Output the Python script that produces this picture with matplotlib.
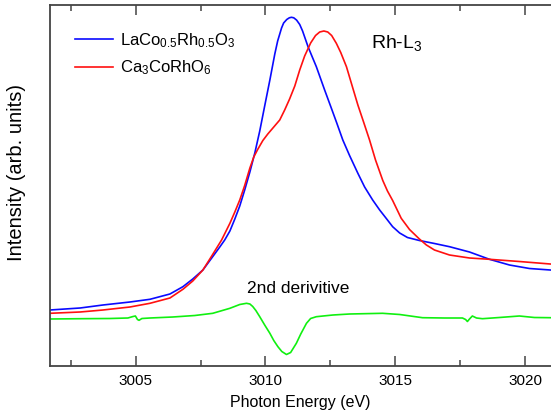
import matplotlib.pyplot as plt
from matplotlib.ticker import MultipleLocator

plt.rcParams['font.family'] = ['Liberation Sans', 'DejaVu Sans']
plt.rcParams['mathtext.fontset'] = 'custom'
plt.rcParams['mathtext.rm'] = 'Liberation Sans'
plt.rcParams['mathtext.it'] = 'Liberation Sans:italic'

# Rh L3 edge XAS, LaCo0.5Rh0.5O3
energy_lco = [3001.70, 3002.86, 3003.74, 3004.78, 3005.55, 3006.32, 3006.82, 3007.20,
              3007.59, 3007.93, 3008.24, 3008.43, 3008.63, 3008.82, 3009.01, 3009.20,
              3009.40, 3009.59, 3009.78, 3009.97, 3010.17, 3010.36, 3010.47, 3010.62,
              3010.70, 3010.82, 3010.92, 3011.00, 3011.09, 3011.20, 3011.32, 3011.43,
              3011.64, 3011.78, 3011.96, 3012.28, 3012.54, 3012.74, 3012.98, 3013.24,
              3013.56, 3013.82, 3014.13, 3014.40, 3014.65, 3014.90, 3015.17, 3015.47,
              3015.93, 3016.51, 3017.09, 3017.86, 3018.63, 3019.40, 3020.17, 3020.97]
int_lco = [0.560, 0.580, 0.610, 0.640, 0.667, 0.720, 0.793, 0.870,
           0.960, 1.080, 1.190, 1.260, 1.350, 1.470, 1.600, 1.760,
           1.940, 2.130, 2.350, 2.600, 2.860, 3.120, 3.250, 3.380,
           3.430, 3.465, 3.482, 3.487, 3.482, 3.459, 3.415, 3.350,
           3.193, 3.105, 2.993, 2.760, 2.577, 2.435, 2.260, 2.105,
           1.927, 1.790, 1.660, 1.560, 1.477, 1.393, 1.330, 1.285,
           1.255, 1.225, 1.193, 1.140, 1.067, 1.010, 0.975, 0.960]

# Ca3CoRhO6
energy_cco = [3001.70, 3002.86, 3003.74, 3004.78, 3005.55, 3006.32, 3006.82, 3007.20,
              3007.59, 3007.93, 3008.31, 3008.63, 3008.82, 3009.01, 3009.20, 3009.40,
              3009.55, 3009.70, 3009.90, 3010.09, 3010.32, 3010.55, 3010.74, 3010.93,
              3011.13, 3011.32, 3011.51, 3011.74, 3011.93, 3012.09, 3012.25, 3012.40,
              3012.55, 3012.73, 3012.90, 3013.12, 3013.37, 3013.56, 3013.78, 3014.01,
              3014.24, 3014.52, 3014.70, 3014.90, 3015.23, 3015.55, 3015.93, 3016.20,
              3016.51, 3017.09, 3017.86, 3018.63, 3019.78, 3020.97]
int_cco = [0.527, 0.540, 0.560, 0.590, 0.627, 0.680, 0.767, 0.850,
           0.960, 1.100, 1.260, 1.427, 1.540, 1.660, 1.805, 1.980,
           2.090, 2.165, 2.255, 2.320, 2.390, 2.460, 2.560, 2.670,
           2.800, 2.960, 3.100, 3.230, 3.305, 3.340, 3.350, 3.340,
           3.305, 3.227, 3.135, 2.993, 2.775, 2.610, 2.440, 2.260,
           2.060, 1.855, 1.750, 1.655, 1.477, 1.365, 1.270, 1.210,
           1.160, 1.110, 1.080, 1.067, 1.045, 1.020]

# second derivative of the LaCo0.5Rh0.5O3 spectrum (offset)
energy_d2 = [3001.70, 3002.86, 3004.01, 3004.70, 3004.90, 3004.99, 3005.07, 3005.13,
             3005.24, 3005.55, 3006.43, 3007.28, 3007.97, 3008.63, 3009.01, 3009.27,
             3009.40, 3009.51, 3009.63, 3009.78, 3009.97, 3010.17, 3010.32, 3010.48,
             3010.63, 3010.81, 3010.97, 3011.19, 3011.36, 3011.58, 3011.74, 3011.96,
             3012.60, 3013.24, 3014.51, 3015.17, 3016.05, 3016.90, 3017.59, 3017.71,
             3017.78, 3017.86, 3017.97, 3018.13, 3018.36, 3019.01, 3019.78, 3020.36,
             3020.97]
int_d2 = [0.470, 0.473, 0.475, 0.480, 0.495, 0.500, 0.465, 0.457,
          0.475, 0.480, 0.490, 0.505, 0.527, 0.577, 0.615, 0.627,
          0.620, 0.595, 0.555, 0.493, 0.410, 0.327, 0.255, 0.193,
          0.145, 0.115, 0.135, 0.227, 0.320, 0.427, 0.475, 0.493,
          0.510, 0.520, 0.527, 0.515, 0.483, 0.480, 0.480, 0.465,
          0.445, 0.470, 0.500, 0.480, 0.473, 0.485, 0.500, 0.485,
          0.483]

fig = plt.figure(figsize=(5.51, 4.16), dpi=100)
ax = fig.add_axes([50 / 551, 50 / 416, 501 / 551, 361 / 416])

ax.plot(energy_lco, int_lco, color='#0a0aff', lw=1.2,
        label=r'LaCo$_{\mathrm{0.5}}$Rh$_{\mathrm{0.5}}$O$_{\mathrm{3}}$')
ax.plot(energy_cco, int_cco, color='#ff1010', lw=1.2,
        label=r'Ca$_{\mathrm{3}}$CoRhO$_{\mathrm{6}}$')
ax.plot(energy_d2, int_d2, color='#10f010', lw=1.2)

ax.set_xlim(3001.7, 3021.0)
ax.set_ylim(0, 3.61)

ax.xaxis.set_major_locator(MultipleLocator(5))
ax.xaxis.set_minor_locator(MultipleLocator(2.5))
ax.set_yticks([])
ax.tick_params(axis='x', which='both', direction='in', top=True, color='#444444',
               labelsize=11, pad=6)
ax.tick_params(axis='x', which='major', length=7, width=1.1)
ax.tick_params(axis='x', which='minor', length=4, width=1.1)
for side in ['left', 'bottom', 'top']:
    ax.spines[side].set_color('#444444')
    ax.spines[side].set_linewidth(1.3)
ax.spines['right'].set_visible(False)

ax.set_xlabel('Photon Energy (eV)', fontsize=11.5, labelpad=5)
ax.set_ylabel('Intensity (arb. units)', fontsize=14.5)
ax.yaxis.set_label_coords(-0.048, 0.537)

ax.legend(loc='upper left', bbox_to_anchor=(0.02, 0.97), frameon=False, fontsize=12,
          handlelength=2.3, handletextpad=0.4, labelspacing=0.55)

ax.text(3014.05, 3.18, r'Rh-L$_{\mathrm{3}}$', fontsize=14, va='baseline')
ax.text(3009.3, 0.73, '2nd derivitive', fontsize=12.5, va='baseline')

fig.savefig('out.png', dpi=100)
